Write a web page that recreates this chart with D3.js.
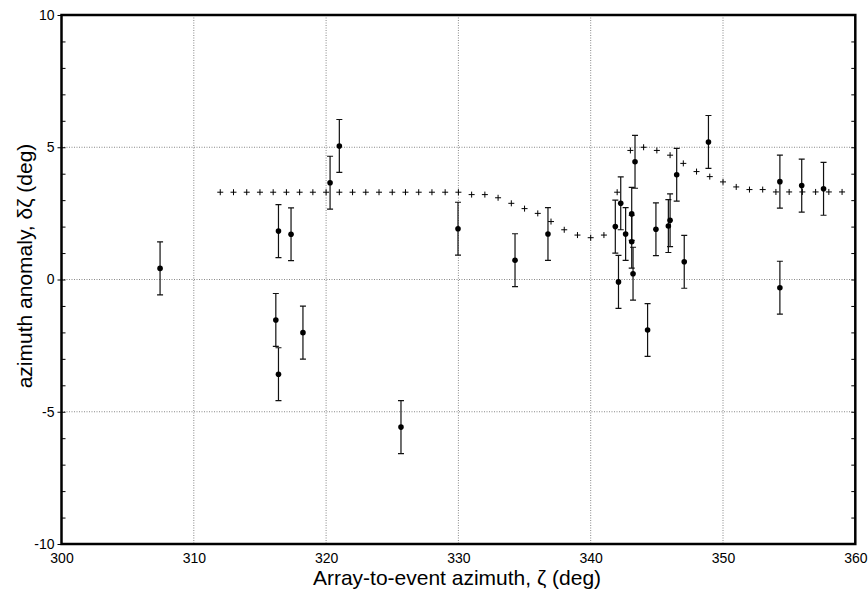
<!DOCTYPE html>
<html>
<head>
<meta charset="utf-8">
<script src="https://cdn.jsdelivr.net/npm/d3@7"></script>
<style>
  body { margin: 0; background: #fff; }
  svg { display: block; font-family: "Liberation Sans", Arial, sans-serif; }
</style>
</head>
<body>
<script>
// observed azimuth anomalies, each with a +-1 deg error bar
const obsAzimuth = [307.45, 316.2, 316.4, 316.4, 317.35, 318.25, 320.3, 321.0, 325.66, 329.97,
  334.28, 336.77, 341.86, 342.1, 342.27, 342.64, 343.1, 343.1, 343.2, 343.35,
  344.3, 344.93, 345.87, 346.0, 346.5, 347.07, 348.9, 354.3, 354.3, 355.95, 357.6];
const obsAnomaly = [0.42, -1.53, 1.83, -3.58, 1.71, -2.01, 3.66, 5.05, -5.58, 1.92,
  0.73, 1.72, 2.0, -0.09, 2.88, 1.72, 2.48, 1.43, 0.22, 4.45,
  -1.91, 1.90, 2.02, 2.24, 3.96, 0.67, 5.2, 3.70, -0.31, 3.55, 3.43];
const obsError = obsAzimuth.map(() => 1);

// model curve (plus markers), one per degree
const modelAzimuth = d3.range(312, 360);
const modelAnomaly = [3.30, 3.30, 3.30, 3.30, 3.30, 3.30, 3.30, 3.30, 3.30, 3.30,
  3.30, 3.30, 3.30, 3.30, 3.30, 3.30, 3.30, 3.30, 3.30, 3.21,
  3.21, 3.09, 2.88, 2.68, 2.50, 2.19, 1.88, 1.68, 1.58, 1.68,
  3.30, 4.88, 5.0, 4.88, 4.70, 4.39, 4.08, 3.89, 3.69, 3.50,
  3.40, 3.40, 3.31, 3.31, 3.31, 3.31, 3.31, 3.31];

const xTicks = [300, 310, 320, 330, 340, 350, 360];
const yTicks = [-10, -5, 0, 5, 10];

const W = 868, H = 592;
const svg = d3.select("body").append("svg").attr("width", W).attr("height", H);

const x = d3.scaleLinear().domain([300, 360]).range([61.5, 855.3]);
const y = d3.scaleLinear().domain([-10, 10]).range([544, 15]);

// grid
const grid = svg.append("g").attr("stroke", "#888").attr("stroke-width", 1).attr("stroke-dasharray", "1,1.5");
grid.selectAll(".gx").data(xTicks.slice(1, -1)).join("line")
  .attr("x1", d => x(d)).attr("x2", d => x(d)).attr("y1", y(10)).attr("y2", y(-10));
grid.selectAll(".gy").data(yTicks.slice(1, -1)).join("line")
  .attr("y1", d => y(d)).attr("y2", d => y(d)).attr("x1", x(300)).attr("x2", x(360));

// model crosses
const cs = 3;
const cross = svg.append("g").attr("stroke", "#000").attr("stroke-width", 1);
modelAzimuth.forEach((a, i) => {
  const cx = x(a), cy = y(modelAnomaly[i]);
  cross.append("path").attr("d", `M${cx - cs},${cy}H${cx + cs}M${cx},${cy - cs}V${cy + cs}`);
});

// error bars
const eb = svg.append("g").attr("stroke", "#111").attr("stroke-width", 1.2).attr("fill", "none");
obsAzimuth.forEach((a, i) => {
  const cx = x(a);
  const y1 = y(obsAnomaly[i] + obsError[i]), y0 = y(obsAnomaly[i] - obsError[i]);
  eb.append("path").attr("d", `M${cx},${y1}V${y0}M${cx - 3},${y1}H${cx + 3}M${cx - 3},${y0}H${cx + 3}`);
});

// points
svg.append("g").selectAll("circle").data(obsAzimuth).join("circle")
  .attr("cx", d => x(d)).attr("cy", (d, i) => y(obsAnomaly[i])).attr("r", 2.8).attr("fill", "#000");

// axes
const fs = 14;
const fmt = d => String(d);
const xAxis = svg.append("g").attr("transform", `translate(0,${y(-10)})`)
  .call(d3.axisBottom(x).tickValues(xTicks).tickSize(0).tickPadding(9).tickFormat(fmt));
const yAxis = svg.append("g").attr("transform", `translate(${x(300)},0)`)
  .call(d3.axisLeft(y).tickValues(yTicks).tickSize(4).tickPadding(3).tickFormat(fmt));
// minor ticks inward, left and right
svg.append("g").attr("transform", `translate(${x(300)},0)`)
  .call(d3.axisLeft(y).tickValues(d3.range(-10, 11)).tickSize(-4).tickFormat(""));
svg.append("g").attr("transform", `translate(${x(360)},0)`)
  .call(d3.axisRight(y).tickValues(d3.range(-10, 11)).tickSize(-4).tickFormat(""));

svg.selectAll(".domain").remove();
svg.selectAll(".tick line").attr("stroke", "#000").attr("stroke-width", 1);
[xAxis, yAxis].forEach(g => g.selectAll("text").attr("font-size", fs).attr("fill", "#000")
  .attr("font-family", "'Liberation Sans', Arial, sans-serif"));

// frame
svg.append("rect").attr("x", x(300)).attr("y", y(10))
  .attr("width", x(360) - x(300)).attr("height", y(-10) - y(10))
  .attr("fill", "none").attr("stroke", "#000").attr("stroke-width", 2.5);

// titles
svg.append("text").attr("x", 457).attr("y", 585).attr("text-anchor", "middle")
  .attr("font-size", 21).text("Array-to-event azimuth, \u03b6 (deg)");
svg.append("text").attr("transform", "translate(32,266) rotate(-90)").attr("text-anchor", "middle")
  .attr("font-size", 21).text("azimuth anomaly, \u03b4\u03b6 (deg)");
</script>
</body>
</html>
